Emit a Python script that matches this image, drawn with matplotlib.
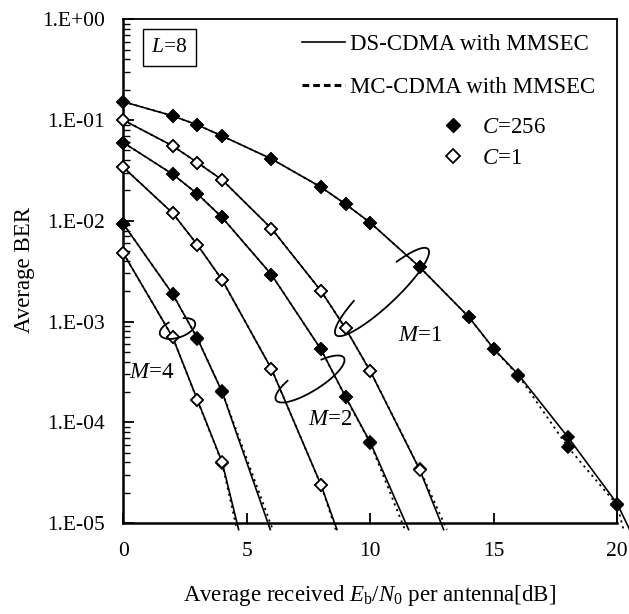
import numpy as np
import matplotlib.pyplot as plt
from matplotlib.lines import Line2D
from matplotlib.transforms import Affine2D

plt.rcParams['font.family'] = ['Liberation Serif', 'DejaVu Serif']
plt.rcParams['mathtext.fontset'] = 'custom'
plt.rcParams['mathtext.rm'] = 'Liberation Serif'
plt.rcParams['mathtext.it'] = 'Liberation Serif:italic'

# M=1
snr_m1_c256 = [0, 2, 3, 4, 6, 8, 9, 10, 12, 14, 15, 16, 18, 20]
ds_m1_c256 = [0.152, 0.110, 0.0894, 0.0695, 0.0411, 0.0216, 0.0146, 0.00958,
              0.00347, 0.00110, 5.36e-4, 2.96e-4, 7.13e-5, 1.55e-5]
mc_m1_c256 = [0.152, 0.110, 0.0894, 0.0695, 0.0411, 0.0216, 0.0146, 0.00958,
              0.00347, 0.00110, 5.3e-4, 2.9e-4, 5.67e-5, 1.5e-5]
snr_m1_c1 = [0, 2, 3, 4, 6, 8, 9, 10, 12]
ds_m1_c1 = [0.100, 0.0553, 0.0378, 0.0255, 0.00837, 0.00202, 8.53e-4, 3.21e-4, 3.38e-5]
mc_m1_c1 = [0.100, 0.0553, 0.0378, 0.0255, 0.00837, 0.00202, 8.53e-4, 3.21e-4, 3.42e-5]
# M=2
snr_m2_c256 = [0, 2, 3, 4, 6, 8, 9, 10]
ds_m2_c256 = [0.0597, 0.029, 0.0185, 0.0108, 0.00292, 5.3e-4, 1.79e-4, 6.3e-5]
mc_m2_c256 = [0.0597, 0.029, 0.0185, 0.0108, 0.00292, 5.3e-4, 1.77e-4, 6.2e-5]
snr_m2_c1 = [0, 2, 3, 4, 6, 8]
ds_m2_c1 = [0.034, 0.0119, 0.00577, 0.00259, 3.38e-4, 2.4e-5]
mc_m2_c1 = [0.034, 0.0119, 0.00577, 0.00259, 3.38e-4, 2.4e-5]
# M=4
snr_m4_c256 = [0, 2, 3, 4]
ds_m4_c256 = [0.00931, 0.00187, 6.78e-4, 2.0e-4]
mc_m4_c256 = [0.00931, 0.00187, 6.8e-4, 2.02e-4]
snr_m4_c1 = [0, 2, 3, 4]
ds_m4_c1 = [0.00477, 6.97e-4, 1.67e-4, 4.03e-5]
mc_m4_c1 = [0.00477, 6.97e-4, 1.65e-4, 3.95e-5]

# where each curve leaves the bottom of the plot
end_ber = 8.6e-6
ds_end_snr = [20.5, 12.97, 11.55, 8.65, 5.95, 4.67]
mc_end_snr = [20.25, 13.1, 11.4, 8.6, 6.05, 4.6]

xticks = [0, 5, 10, 15, 20]
yticks = [1e-5, 1e-4, 1e-3, 1e-2, 1e-1, 1e0]
ytick_labels = ['1.E-05', '1.E-04', '1.E-03', '1.E-02', '1.E-01', '1.E+00']

FS = 15.5
FL = 16.5

fig = plt.figure(figsize=(6.29, 6.14), dpi=100)
ax = fig.add_axes([0.196, 0.1482, 0.7854, 0.8204])

curves = [
    (snr_m1_c256, ds_m1_c256, mc_m1_c256, 'black'),
    (snr_m1_c1, ds_m1_c1, mc_m1_c1, 'white'),
    (snr_m2_c256, ds_m2_c256, mc_m2_c256, 'black'),
    (snr_m2_c1, ds_m2_c1, mc_m2_c1, 'white'),
    (snr_m4_c256, ds_m4_c256, mc_m4_c256, 'black'),
    (snr_m4_c1, ds_m4_c1, mc_m4_c1, 'white'),
]

for i, (snr, ds, mc, fc) in enumerate(curves):
    n = len(snr)
    ax.plot(snr + [mc_end_snr[i]], mc + [end_ber], color='black', lw=1.3,
            ls=(0, (1.2, 2.2)), marker='D', ms=6, mfc=fc, mec='black', mew=1.2,
            markevery=list(range(n)), clip_on=False, zorder=3)
    ax.plot(snr + [ds_end_snr[i]], ds + [end_ber], color='black', lw=1.2,
            marker='D', ms=6, mfc=fc, mec='black', mew=1.2,
            markevery=list(range(n)), clip_on=False, zorder=4)

ax.set_yscale('log')
ax.set_ylim(1e-5, 1)
ax.set_xlim(0, 20)
ax.set_yticks(yticks, ytick_labels)
ax.set_xticks(xticks, [str(t) for t in xticks])
ax.tick_params(axis='y', which='major', direction='in', length=8, width=1.3,
               pad=13, labelsize=FS)
ax.tick_params(axis='y', which='minor', direction='in', length=5, width=1.0)
ax.tick_params(axis='x', which='major', direction='in', length=7, width=1.3,
               pad=14, labelsize=FS)
for s in ['left', 'bottom']:
    ax.spines[s].set_linewidth(1.8)
for s in ['top', 'right']:
    ax.spines[s].set_linewidth(1.3)

ax.set_ylabel('Average BER', fontsize=FL)
ax.yaxis.label.set_va('center')
ax.yaxis.set_label_coords(-0.2, 0.502)
ax.set_xlabel(r'Average received $E_{\mathrm{b}}/N_{0}$ per antenna[dB]', fontsize=FL)
ax.xaxis.label.set_va('center')
ax.xaxis.set_label_coords(0.4994, -0.143)

# legends
line_handles = [Line2D([], [], color='black', lw=1.2),
                Line2D([], [], color='black', lw=2.2, ls=(0, (2.2, 1.3)))]
leg1 = ax.legend(line_handles, ['DS-CDMA with MMSEC', 'MC-CDMA with MMSEC'],
                 loc='upper left', bbox_to_anchor=(0.361, 0.971), frameon=False,
                 fontsize=FL, handlelength=1.9, handletextpad=0.2,
                 labelspacing=0.95, borderpad=0, borderaxespad=0)
ax.add_artist(leg1)
mark_handles = [Line2D([], [], ls='none', marker='D', ms=7.5, mfc='black', mec='black'),
                Line2D([], [], ls='none', marker='D', ms=7.5, mfc='white', mec='black', mew=1.3)]
ax.legend(mark_handles, ['$C$=256', '$C$=1'], loc='upper left',
          bbox_to_anchor=(0.644, 0.806), frameon=False, fontsize=FL,
          handlelength=1.0, handletextpad=0.75, labelspacing=0.45,
          borderpad=0, borderaxespad=0)

ax.text(0.0935, 0.944, '$L$=8', transform=ax.transAxes, fontsize=FS,
        ha='center', va='center',
        bbox=dict(boxstyle='square,pad=0.4', fc='white', ec='black', lw=1.0))
ax.text(0.6006, 0.373, '$M$=1', transform=ax.transAxes, fontsize=FL,
        ha='center', va='center')
ax.text(0.4194, 0.2045, '$M$=2', transform=ax.transAxes, fontsize=FL,
        ha='center', va='center')
ax.text(0.057, 0.299, '$M$=4', transform=ax.transAxes, fontsize=FL,
        ha='center', va='center')

# open elliptical loops grouping the curves (image pixel coordinates)
px = Affine2D().scale(1 / 629, -1 / 614).translate(0, 1) + fig.transFigure


def loop(cx, cy, a, b, ang, t0, t1):
    t = np.radians(np.linspace(t0, t1, 120))
    r = np.radians(ang)
    u = a * np.cos(t)
    v = b * np.sin(t)
    x = cx + u * np.cos(r) - v * np.sin(r)
    y = cy - (u * np.sin(r) + v * np.cos(r))
    fig.add_artist(Line2D(x, y, transform=px, color='black', lw=1.3))


loop(382, 292, 63, 14, 43, 115, 420)
loop(310, 379, 40, 12, 32, 120, 420)
loop(177.5, 328.5, 18.5, 9, 19, 110, 420)

fig.savefig('out.png', dpi=100)
